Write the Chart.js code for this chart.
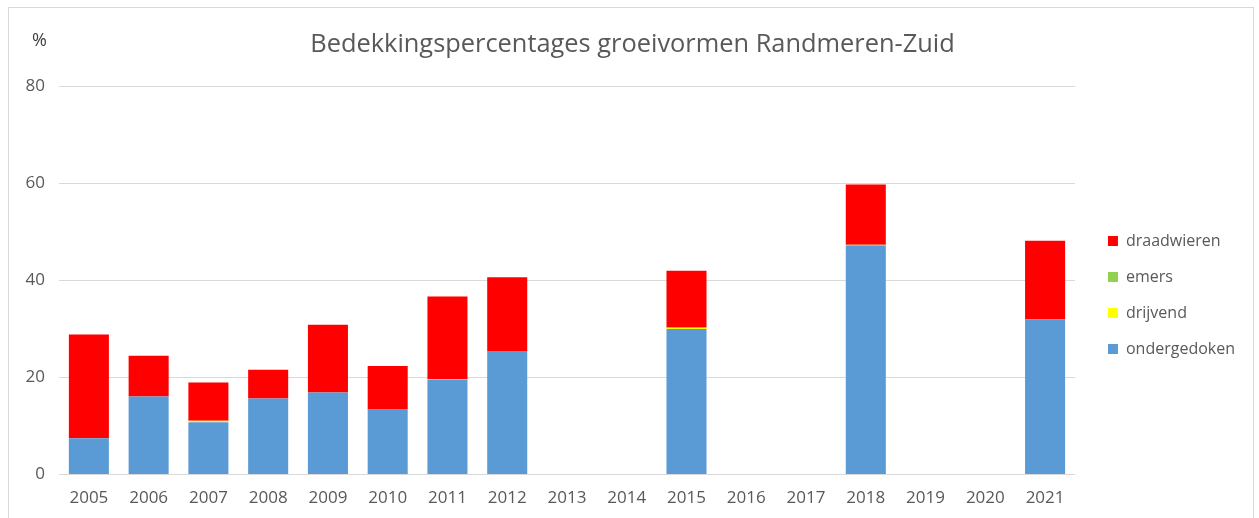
<!DOCTYPE html>
<html>
<head>
<meta charset="utf-8">
<script src="https://cdn.jsdelivr.net/npm/chart.js@4/dist/chart.umd.min.js"></script>
<style>
  html, body { margin: 0; padding: 0; background: #fff; }
  #wrap { position: relative; width: 1259px; height: 518px; overflow: hidden; }
  #frame { position: absolute; left: 8px; top: 7px; width: 1244px; height: 600px; border: 1px solid #d9d9d9; pointer-events: none; }
  canvas { position: absolute; left: 0; top: 0; }
</style>
</head>
<body>
<div id="wrap">
  <div id="frame"></div>
  <canvas id="c" width="1259" height="518"></canvas>
</div>
<script>
const years = ['2005','2006','2007','2008','2009','2010','2011','2012','2013','2014','2015','2016','2017','2018','2019','2020','2021'];
const ondergedoken = [7.5, 16.1, 10.8, 15.7, 16.9, 13.5, 19.6, 25.5, null, null, 30.0, null, null, 47.2, null, null, 32.0];
const drijvend     = [0, 0, 0.3, 0, 0, 0, 0.1, 0, null, null, 0.2, null, null, 0, null, null, 0];
const emers        = [0, 0, 0, 0, 0, 0, 0, 0, null, null, 0.1, null, null, 0.2, null, null, 0];
const draadwieren  = [21.4, 8.4, 7.9, 5.9, 14.0, 8.9, 17.0, 15.2, null, null, 11.7, null, null, 12.4, null, null, 16.2];
const yTicks = [0, 20, 40, 60, 80];

const FONT = "'Open Sans', sans-serif";
const GREY = '#595959';

const percentLabel = {
  id: 'percentLabel',
  afterDraw(chart) {
    const ctx = chart.ctx;
    ctx.save();
    ctx.fillStyle = '#404040';
    ctx.font = "18px " + FONT;
    ctx.textAlign = 'left';
    ctx.textBaseline = 'middle';
    ctx.fillText('%', 32, 41);
    ctx.restore();
  }
};

new Chart(document.getElementById('c'), {
  type: 'bar',
  data: {
    labels: years,
    datasets: [
      { label: 'ondergedoken', data: ondergedoken, backgroundColor: '#5B9BD5' },
      { label: 'drijvend', data: drijvend, backgroundColor: '#FFFF00' },
      { label: 'emers', data: emers, backgroundColor: '#92D050' },
      { label: 'draadwieren', data: draadwieren, backgroundColor: '#FF0000' }
    ]
  },
  options: {
    responsive: false,
    animation: false,
    layout: { padding: { left: 20, right: 14, top: 0, bottom: -3 } },
    datasets: { bar: { barPercentage: 0.67, categoryPercentage: 1.0 } },
    scales: {
      x: {
        stacked: true,
        grid: { display: false, drawTicks: false },
        border: { display: false },
        ticks: { color: GREY, font: { family: FONT, size: 17 }, padding: 13, maxRotation: 0, autoSkip: false }
      },
      y: {
        stacked: true,
        min: 0, max: 80,
        afterFit(scale) { scale.width = 39; },
        afterBuildTicks(scale) { scale.ticks = yTicks.map(v => ({ value: v })); },
        grid: { color: '#d9d9d9', lineWidth: 1, drawTicks: false },
        border: { display: false },
        ticks: { color: GREY, font: { family: FONT, size: 17 }, padding: 14 }
      },
      gap: {
        position: 'right',
        display: true,
        afterFit(scale) { scale.width = 13; },
        grid: { display: false },
        border: { display: false },
        ticks: { display: false }
      }
    },
    plugins: {
      title: {
        display: true,
        text: 'Bedekkingspercentages groeivormen Randmeren-Zuid',
        color: GREY,
        font: { family: FONT, size: 25.4, weight: 'normal' },
        padding: { top: 30, bottom: 26 }
      },
      legend: {
        position: 'right',
        reverse: true,
        title: { display: true, text: ' ', font: { family: FONT, size: 10 }, padding: { top: 57, bottom: 0 } },
        labels: {
          color: GREY,
          font: { family: FONT, size: 16 },
          boxWidth: 10,
          boxHeight: 10,
          padding: 20
        }
      },
      tooltip: { enabled: false }
    }
  },
  plugins: [percentLabel]
});
</script>
</body>
</html>
